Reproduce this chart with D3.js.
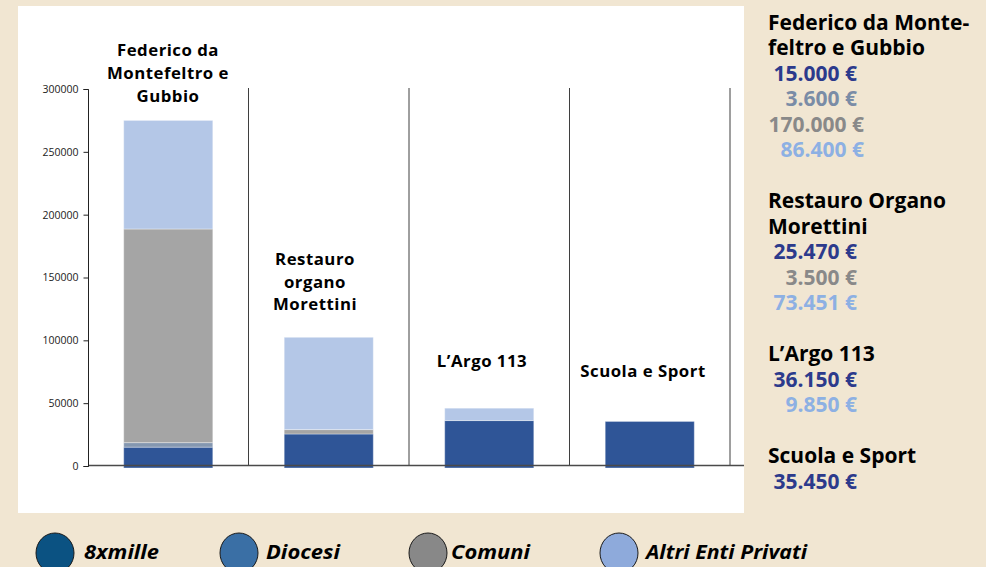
<!DOCTYPE html>
<html><head><meta charset="utf-8">
<script src="https://cdn.jsdelivr.net/npm/d3@7"></script>
<style>
html,body{margin:0;padding:0;background:#f1e6d2;}
svg{display:block;}
</style></head>
<body>
<svg id="c" width="986" height="567"></svg>
<script>
// ---- data ----
const categories = ["Federico da Montefeltro e Gubbio", "Restauro organo Morettini", "L’Argo 113", "Scuola e Sport"];
const categoryLabelLines = [["Federico da", "Montefeltro e", "Gubbio"], ["Restauro", "organo", "Morettini"], ["L’Argo 113"], ["Scuola e Sport"]];
const seriesNames = ["8xmille", "Diocesi", "Comuni", "Altri Enti Privati"];
const val8xmille = [15000, 25470, 36150, 35450];
const valDiocesi = [3600, 0, 0, 0];
const valComuni = [170000, 3500, 0, 0];
const valAltri = [86400, 73451, 9850, 0];
const yTicks = [0, 50000, 100000, 150000, 200000, 250000, 300000];
const sideHeadings = [["Federico da Monte-", "feltro e Gubbio"], ["Restauro Organo", "Morettini"], ["L’Argo 113"], ["Scuola e Sport"]];
const sideValues = [
  [["15.000 €", 0], ["3.600 €", 1], ["170.000 €", 2], ["86.400 €", 3]],
  [["25.470 €", 0], ["3.500 €", 2], ["73.451 €", 3]],
  [["36.150 €", 0], ["9.850 €", 3]],
  [["35.450 €", 0]]
];

// ---- styles ----
const barColors = ["#2f5597", "#8497b0", "#a5a5a5", "#b4c7e7"];
const sideColors = ["#2c3a8c", "#7a8ca6", "#898989", "#8db0e3"];
const legendColors = ["#0b5282", "#3a6fa5", "#888888", "#8eaadb"];
const labelPos = [{x:168, y:[56,79,102]}, {x:315, y:[265,288,310]}, {x:482, y:[367]}, {x:643, y:[377]}];

const svg = d3.select("#c");
svg.append("rect").attr("x",18).attr("y",6).attr("width",726).attr("height",507).attr("fill","#ffffff");

const x = d3.scaleBand().domain(categories).range([88, 730]).paddingInner(0).paddingOuter(0);
const y = d3.scaleLinear().domain([0, 300000]).range([466, 89]);
const barW = x.bandwidth() * 0.555;

const rows = categories.map((c,i) => ({cat:c, s0:val8xmille[i], s1:valDiocesi[i], s2:valComuni[i], s3:valAltri[i]}));
const stack = d3.stack().keys(["s0","s1","s2","s3"])(rows);

const g = svg.append("g");
stack.forEach((layer, li) => {
  g.selectAll(null).data(layer).enter().append("rect")
    .attr("x", d => x(d.data.cat) + (x.bandwidth()-barW)/2)
    .attr("width", barW)
    .attr("y", d => y(d[1]))
    .attr("height", d => Math.max(0, y(d[0]) - y(d[1]) + (li===0 ? 2 : 0)))
    .attr("fill", barColors[li])
    .attr("stroke", "rgba(255,255,255,0.35)")
    .attr("stroke-width", 1)
    .style("display", d => d[1]-d[0] > 0 ? null : "none");
});

// separators
categories.forEach(c => {
  g.append("line").attr("x1", x(c)+x.bandwidth()).attr("x2", x(c)+x.bandwidth())
    .attr("y1", 88).attr("y2", 466).attr("stroke", "#3f3f3f").attr("stroke-width", 1);
});
// x baseline
g.append("line").attr("x1",88).attr("x2",744).attr("y1",465.5).attr("y2",465.5)
  .attr("stroke","#4a4a4a").attr("stroke-width",1.5);

// y axis
const yAxis = d3.axisLeft(y).tickValues(yTicks).tickSize(5).tickPadding(5).tickFormat(d3.format("d"));
const ya = svg.append("g").attr("transform","translate(88.5,0)").call(yAxis);
ya.select(".domain").attr("stroke","#222").attr("d","M-5,89.5H0V466.5H-5");
ya.selectAll(".tick line").attr("stroke","#222");
ya.selectAll("text").attr("font-family","Open Sans").attr("font-size",10.5).attr("fill","#222");

// category labels
categoryLabelLines.forEach((lines, i) => {
  lines.forEach((t, j) => {
    svg.append("text").attr("x", labelPos[i].x).attr("y", labelPos[i].y[j])
      .attr("text-anchor","middle").attr("font-family","Open Sans").attr("font-weight",700)
      .attr("font-size", 16.8).attr("letter-spacing", 0.5).attr("fill","#000").text(t);
  });
});

// side panel
let line = 0;
const lineY = k => 29.5 + k*25.5;
sideHeadings.forEach((hs, gi) => {
  hs.forEach(h => {
    svg.append("text").attr("x",768).attr("y",lineY(line++)).attr("font-family","Open Sans")
      .attr("font-weight",700).attr("font-size",21).attr("fill","#000").text(h);
  });
  sideValues[gi].forEach(([t, ci], k) => {
    const xe = (gi===0 && k>=2) ? 864 : 857;
    svg.append("text").attr("x",xe).attr("y",lineY(line++)).attr("text-anchor","end")
      .attr("font-family","Open Sans").attr("font-weight",700).attr("font-size",21)
      .attr("fill", sideColors[ci]).text(t);
  });
  line++;
});

// legend
const legX = [55, 239, 428, 619];
const legTextX = [84, 266, 451, 646];
const legW = [75, 74, 79, 161];
seriesNames.forEach((n, i) => {
  svg.append("ellipse").attr("cx",legX[i]).attr("cy",553).attr("rx",19).attr("ry",20)
    .attr("fill",legendColors[i]).attr("stroke","#1a1a1a").attr("stroke-width",1);
  svg.append("text").attr("x",legTextX[i]).attr("y",559).attr("font-family","Open Sans")
    .attr("font-weight",700).attr("font-style","italic").attr("font-size",20).attr("fill","#000")
    .attr("textLength",legW[i]).attr("lengthAdjust","spacingAndGlyphs").text(n);
});
</script>
</body></html>
